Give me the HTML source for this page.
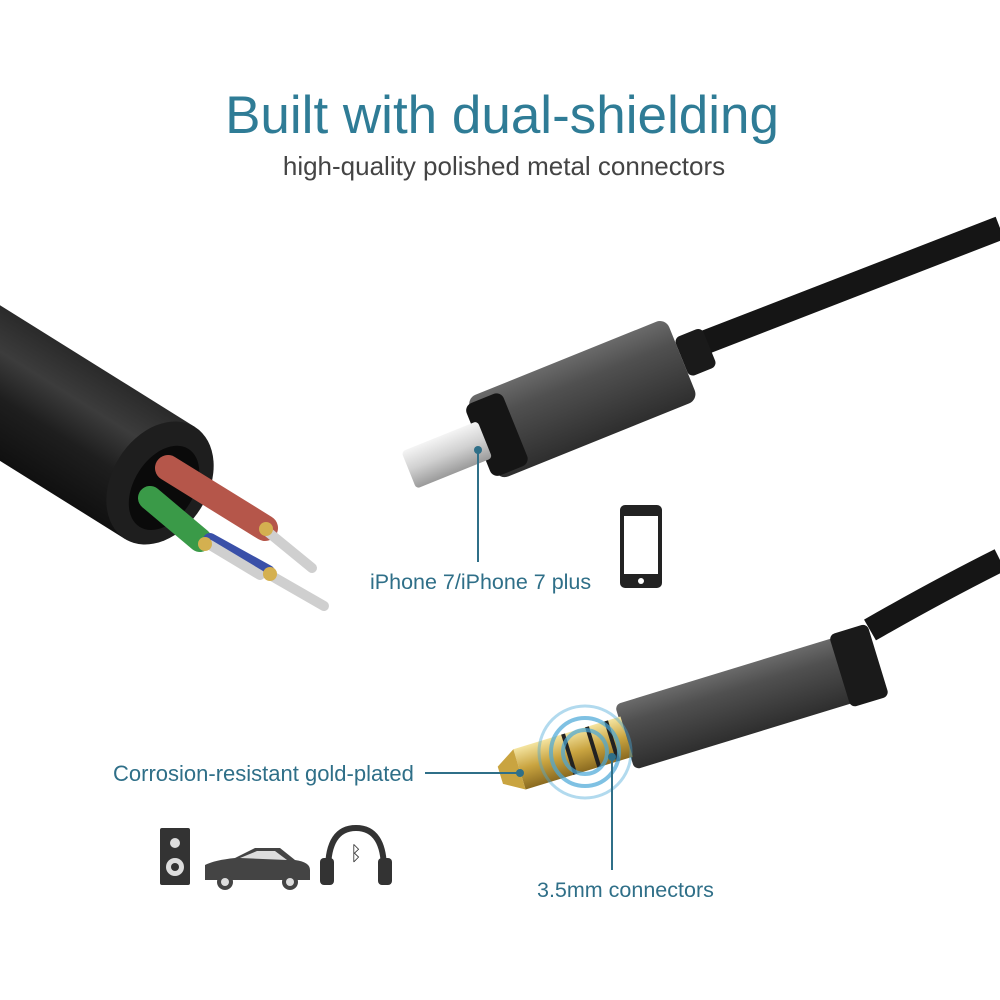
<!DOCTYPE html>
<html><head><meta charset="utf-8"><style>
html,body{margin:0;padding:0;background:#fff;}
svg{display:block}
</style></head><body>
<svg width="1000" height="1000" viewBox="0 0 1000 1000" xmlns="http://www.w3.org/2000/svg">
<defs>
<linearGradient id="tube" x1="0" y1="0" x2="0" y2="1">
<stop offset="0" stop-color="#2a2a2a"/><stop offset="0.3" stop-color="#3c3c3c"/><stop offset="0.6" stop-color="#1e1e1e"/><stop offset="1" stop-color="#101010"/></linearGradient>
<linearGradient id="body" x1="0" y1="0" x2="0" y2="1">
<stop offset="0" stop-color="#6a6a6a"/><stop offset="0.3" stop-color="#505050"/><stop offset="1" stop-color="#2e2e2e"/></linearGradient>
<linearGradient id="silver" x1="0" y1="0" x2="0" y2="1">
<stop offset="0" stop-color="#f4f4f4"/><stop offset="0.5" stop-color="#d0d0d0"/><stop offset="1" stop-color="#9a9a9a"/></linearGradient>
<linearGradient id="gold" x1="0" y1="0" x2="0" y2="1">
<stop offset="0" stop-color="#f4e4a0"/><stop offset="0.5" stop-color="#c9a440"/><stop offset="1" stop-color="#8a6a20"/></linearGradient>
</defs>

<text x="502" y="133" text-anchor="middle" font-family="Liberation Sans, sans-serif" font-size="53" fill="#2f7c96">Built with dual-shielding</text>
<text x="504" y="175" text-anchor="middle" font-family="Liberation Sans, sans-serif" font-size="26" fill="#444">high-quality polished metal connectors</text>

<!-- left thick cable -->
<g transform="translate(160 483) rotate(32)">
<rect x="-400" y="-66" width="400" height="132" fill="url(#tube)"/>
<ellipse cx="0" cy="0" rx="48" ry="66" fill="#1e1e1e"/>
<ellipse cx="6" cy="2" rx="30" ry="46" fill="#0a0a0a"/>
</g>
<!-- wires -->
<g stroke-linecap="round">
<line x1="168" y1="468" x2="265" y2="528" stroke="#b5564a" stroke-width="26"/>
<line x1="150" y1="498" x2="200" y2="540" stroke="#3a9a48" stroke-width="24"/>
<line x1="210" y1="540" x2="268" y2="572" stroke="#3a50a8" stroke-width="14"/>
<line x1="268" y1="532" x2="312" y2="568" stroke="#cfcfcf" stroke-width="10"/>
<line x1="270" y1="575" x2="324" y2="606" stroke="#cfcfcf" stroke-width="10"/>
<line x1="210" y1="545" x2="260" y2="575" stroke="#cfcfcf" stroke-width="10"/>
<circle cx="266" cy="529" r="7" fill="#d4b050"/>
<circle cx="270" cy="574" r="7" fill="#d4b050"/>
<circle cx="205" cy="544" r="7" fill="#d4b050"/>
</g>

<!-- lightning cable -->
<path d="M1000 228 L680 352" stroke="#151515" stroke-width="24" fill="none"/>
<g transform="rotate(-22 580 400)">
<rect x="690" y="378" width="30" height="42" rx="6" fill="#1a1a1a"/>
<rect x="475" y="356" width="215" height="88" rx="10" fill="url(#body)"/>
<rect x="470" y="362" width="40" height="78" rx="8" fill="#151515"/>
<rect x="395" y="381" width="82" height="40" rx="4" fill="url(#silver)"/>
</g>
<line x1="478" y1="450" x2="478" y2="562" stroke="#2f6f88" stroke-width="2"/>
<circle cx="478" cy="450" r="4" fill="#2f6f88"/>
<text x="370" y="589" font-family="Liberation Sans, sans-serif" font-size="21.5" fill="#2f6f88">iPhone 7/iPhone 7 plus</text>
<!-- phone icon -->
<rect x="620" y="505" width="42" height="83" rx="5" fill="#222"/>
<rect x="624" y="516" width="34" height="58" fill="#fff"/>
<circle cx="641" cy="581" r="3" fill="#fff"/>

<!-- 3.5mm cable -->
<path d="M1000 560 Q940 590 870 630" stroke="#151515" stroke-width="24" fill="none"/>
<g transform="rotate(-17 700 710)">
<rect x="620" y="680" width="255" height="68" rx="6" fill="url(#body)"/>
<rect x="845" y="676" width="40" height="76" rx="6" fill="#1a1a1a"/>
<rect x="510" y="693" width="112" height="42" fill="url(#gold)"/>
<rect x="560" y="693" width="4" height="42" fill="#222"/>
<rect x="585" y="693" width="4" height="42" fill="#222"/>
<rect x="605" y="693" width="4" height="42" fill="#222"/>
<path d="M510 693 L490 705 L490 723 L510 735Z" fill="#c9a440"/>
</g>
<g fill="none" stroke="#4aa8d8" opacity="0.7">
<circle cx="585" cy="752" r="22" stroke-width="4"/>
<circle cx="585" cy="752" r="34" stroke-width="4"/>
<circle cx="585" cy="752" r="46" stroke-width="3" opacity="0.6"/>
</g>
<line x1="425" y1="773" x2="520" y2="773" stroke="#2f6f88" stroke-width="2"/>
<circle cx="520" cy="773" r="4" fill="#2f6f88"/>
<text x="113" y="781" font-family="Liberation Sans, sans-serif" font-size="22" fill="#2f6f88">Corrosion-resistant gold-plated</text>
<line x1="612" y1="757" x2="612" y2="870" stroke="#2f6f88" stroke-width="2"/>
<circle cx="612" cy="757" r="4" fill="#2f6f88"/>
<text x="537" y="897" font-family="Liberation Sans, sans-serif" font-size="21.5" fill="#2f6f88">3.5mm connectors</text>

<!-- icons -->
<rect x="160" y="828" width="30" height="57" rx="2" fill="#333"/>
<circle cx="175" cy="843" r="5" fill="#ddd"/>
<circle cx="175" cy="867" r="9" fill="#ddd"/><circle cx="175" cy="867" r="4" fill="#333"/>
<path d="M205 880 L205 865 Q215 860 235 858 L255 848 L280 848 L295 860 Q310 862 310 870 L310 880 Z" fill="#444"/>
<path d="M240 858 L257 851 L275 851 L287 860Z" fill="#ddd"/>
<circle cx="225" cy="882" r="8" fill="#444"/><circle cx="225" cy="882" r="4" fill="#ddd"/>
<circle cx="290" cy="882" r="8" fill="#444"/><circle cx="290" cy="882" r="4" fill="#ddd"/>
<path d="M328 870 Q328 828 356 828 Q384 828 384 870" fill="none" stroke="#333" stroke-width="6"/>
<rect x="320" y="858" width="14" height="27" rx="4" fill="#333"/>
<rect x="378" y="858" width="14" height="27" rx="4" fill="#333"/>
<text x="356" y="860" text-anchor="middle" font-family="DejaVu Sans, sans-serif" font-size="20" fill="#333">ᛒ</text>
</svg>
</body></html>
